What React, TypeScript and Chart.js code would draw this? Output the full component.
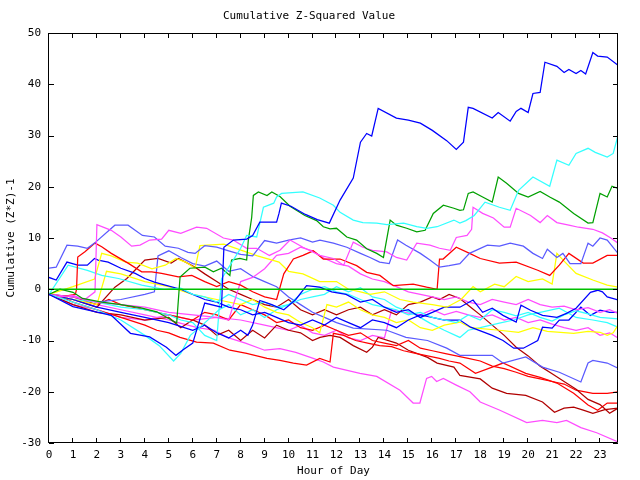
import { useEffect, useRef } from 'react';
import { Chart, registerables } from 'chart.js';

Chart.register(...registerables);

const TITLE = 'Cumulative Z-Squared Value';
const X_TITLE = 'Hour of Day';
const Y_TITLE = 'Cumulative (Z*Z)-1';
const X_TICKS = [0, 1, 2, 3, 4, 5, 6, 7, 8, 9, 10, 11, 12, 13, 14, 15, 16, 17, 18, 19, 20, 21, 22, 23];
const Y_TICKS = [-30, -20, -10, 0, 10, 20, 30, 40, 50];
const X_MIN = 0;
const X_MAX = 23.75;
const Y_MIN = -30;
const Y_MAX = 50;

// [hour, cumulative value]
const blueBig = [[0,-1],[1,-3.4],[2.6,-5.1],[3.4,-8.6],[4.2,-9.3],[4.9,-11.3],[5.3,-12.9],[5.6,-11.8],[6,-10.5],[6.5,-2.7],[7.2,-3.5],[7.3,8.2],[7.7,9.6],[8.25,9.8],[8.5,10.5],[8.8,13.1],[9.5,13.1],[9.6,14.8],[9.7,16.8],[10.1,16.2],[10.7,14.6],[11.2,13.6],[11.7,12.9],[12.15,17.4],[12.7,21.7],[13.0,28.7],[13.26,30.4],[13.47,29.9],[13.74,35.3],[14.5,33.4],[15.0,33],[15.5,32.4],[16.0,31],[16.6,29],[17.0,27.3],[17.3,28.7],[17.5,35.5],[17.7,35.3],[18.5,33.4],[18.75,34.5],[19.25,32.8],[19.5,34.7],[19.7,35.3],[20.0,34.5],[20.2,38.2],[20.5,38.4],[20.7,44.3],[21.2,43.5],[21.5,42.3],[21.7,42.9],[22.0,42.1],[22.2,42.7],[22.4,42],[22.7,46.2],[22.9,45.5],[23.3,45.3],[23.75,43.7]];
const cyanBig = [[0,-1],[1,-2.5],[2,-4],[3,-6],[4,-9],[4.6,-11],[5.2,-14],[5.5,-12.5],[5.9,-9],[6.4,-7],[7.1,-4],[7.2,2],[7.6,5],[8.0,8],[8.25,10.5],[8.67,10.2],[8.95,16],[9.38,16.8],[9.5,18],[9.71,18.7],[10.6,19],[11.3,17.8],[11.87,16.4],[12.15,15],[12.7,13.5],[13.1,13],[13.68,12.9],[14.1,12.6],[14.8,12.9],[15.35,12.2],[15.77,11.9],[16.2,12.2],[16.9,13.5],[17.15,12.9],[17.4,13.4],[17.75,14.4],[18.2,17],[18.8,16],[19.25,15.4],[19.6,19.3],[20.2,21.9],[20.9,20.1],[21.2,25.2],[21.7,24.2],[22.0,26.5],[22.5,27.5],[22.8,26.7],[23.3,25.8],[23.55,26.5],[23.75,30]];
const greenBig = [[0,-1],[0.46,0],[1.0,-0.6],[1.4,-1.8],[2.2,-2.5],[3,-3],[3.8,-3.6],[4.5,-4.4],[5.33,-6.6],[5.47,2.4],[5.88,4.1],[6.51,4.3],[6.86,3.4],[7.2,4.1],[7.55,2.7],[7.62,5.7],[7.97,6],[8.25,5.7],[8.32,9.6],[8.46,14],[8.53,18.3],[8.74,19],[9.1,18.3],[9.3,19],[9.64,18.1],[10.06,16.2],[10.68,14.4],[11.17,13.4],[11.45,12.2],[11.73,11.8],[12.0,11.9],[12.43,10.2],[12.84,9.6],[13.26,7.9],[13.68,7],[13.96,6.2],[14.24,13.5],[14.5,12.5],[14.93,11.9],[15.35,11.2],[15.7,11.5],[16.04,14.8],[16.46,16.4],[16.9,15.8],[17.15,15.4],[17.3,15.5],[17.5,18.7],[17.7,19],[18.1,18],[18.5,17],[18.75,21.9],[19.1,20.7],[19.6,18.7],[20.0,18],[20.5,19.1],[20.9,18],[21.3,17],[21.9,14.8],[22.5,12.9],[22.7,13],[23.0,18.7],[23.3,18],[23.5,20.1],[23.75,19.7]];
const magentaTop = [[0,-1],[0.5,-1.5],[1,-1.2],[1.5,-2],[1.92,-0.5],[2.0,12.6],[2.6,11.5],[3.0,10.2],[3.45,8.4],[3.8,8.6],[4.2,9.6],[4.7,9.8],[5.0,11.5],[5.5,10.9],[6.16,12.1],[6.58,11.9],[7.28,10],[7.69,9.6],[8.25,8],[8.67,8],[9.2,6.6],[9.64,7.6],[10.06,9.6],[10.6,8.2],[11.3,6.6],[11.87,6],[12.3,4.7],[12.7,9.2],[13.1,8.2],[13.5,7.6],[14.1,7.3],[14.5,6.2],[14.93,5.7],[15.35,9],[15.9,8.6],[16.3,8],[16.75,7.6],[17.0,10.1],[17.45,10.5],[17.64,11.7],[17.7,16],[18.1,14.8],[18.55,13.9],[19.0,12.1],[19.25,12.1],[19.5,15.8],[20.1,14.4],[20.5,13],[20.8,14.4],[21.2,13],[21.7,12.5],[22.1,12.1],[22.7,11.7],[23.1,11],[23.45,10],[23.75,9]];
const slateA = [[0,4.1],[0.3,4.3],[0.75,8.6],[1.2,8.4],[1.6,8],[1.9,9],[2.75,12.5],[3.3,12.5],[3.9,10.5],[4.4,10.2],[4.85,8.4],[5.4,8],[5.8,7.2],[6.1,7],[6.5,8.5],[7,8.2],[7.5,7.5],[8,6.8],[8.5,6.5],[9,9.5],[9.5,9],[10,9.6],[10.5,10],[11,9.2],[11.31,9.6],[11.87,9],[12.43,8.2],[13.0,7],[13.4,6.2],[13.8,5.3],[14.2,5],[14.55,9.6],[14.9,8.6],[15.5,7],[15.9,5.7],[16.3,4.3],[16.7,4.6],[17.15,5],[17.55,7],[18.3,8.6],[18.8,8.4],[19.25,9],[19.8,8.4],[20.2,7],[20.6,6],[20.8,7.8],[21.2,6.2],[21.45,7],[21.75,5],[22.2,5],[22.5,9],[22.7,8.4],[23.0,10],[23.3,9.6],[23.75,7]];
const slateB = [[0,-1],[1,-1.5],[2,-2.5],[3,-2],[4,-1],[4.4,-0.5],[4.55,6.5],[5,7.5],[5.5,6.2],[6,5],[6.5,4.5],[7,5.5],[7.5,3.5],[8,4],[8.5,2.5],[9,1.5],[9.5,0.5],[10,-1.5],[10.5,-3],[11,-4.5],[11.5,-5.5],[12,-6.5],[12.7,-7.6],[14.1,-8],[14.9,-9.4],[15.8,-10],[16.6,-11.5],[17.15,-12.9],[18.5,-12.9],[18.95,-14.4],[19.9,-13.2],[20.6,-15.2],[21.3,-16.2],[22.2,-18.1],[22.5,-14.4],[22.7,-13.9],[23.3,-14.4],[23.75,-15.4]];
const redUpper = [[0,-1],[0.5,-1.5],[1.1,-1],[1.15,0],[1.2,6.3],[1.5,7.3],[1.92,9],[2.2,8.3],[2.6,7],[3.3,5.1],[3.87,3.4],[4.29,3.4],[4.7,3.1],[5.4,2.4],[5.96,2.7],[6.5,1.5],[7,0.5],[7.5,1.5],[8,0.8],[8.5,-0.5],[9,-1.5],[9.5,-2],[9.8,3],[10.2,5.9],[10.6,6.6],[11.03,7.5],[11.45,5.9],[12.15,5.9],[12.84,4.6],[13.26,3.3],[13.81,2.7],[14.37,0.7],[15.2,1],[15.76,0.4],[16.2,0],[16.3,5.9],[16.45,5.9],[17.0,8.2],[17.6,6.9],[18.0,6],[18.8,5.1],[19.5,5.3],[20.4,3.7],[20.9,2.7],[21.3,4.7],[21.7,7],[22.3,5.1],[22.7,5.1],[23.3,6.6],[23.75,6.6]];
const yellowUpper = [[0,-1],[1,0.5],[1.9,2],[2.2,7],[2.6,6.5],[3.2,5.3],[3.7,5.1],[4.3,4],[4.85,4.7],[5.3,6],[5.7,5.3],[6.1,4.1],[6.3,8.5],[7.3,8.8],[8.1,7.5],[8.7,6.5],[9.6,5.3],[10,3.5],[10.6,3],[11.3,1.5],[12,1.5],[12.5,0],[13,-0.5],[13.4,-1],[14,-0.5],[14.65,-2],[15.2,-2.5],[16,-3],[16.6,-3.5],[17.2,-2],[17.7,0.5],[18,-0.5],[18.6,1],[19,0.5],[19.5,2.5],[20,1.5],[20.6,2],[21.0,1],[21.2,7],[21.5,5.5],[22,3.1],[22.7,1.8],[23.3,0.8],[23.75,0.4]];
const yellowLower = [[0,-1],[1,-2],[2,-3],[2.4,3.5],[3,3],[4,1.5],[5,0.5],[6,-1],[7,-2],[8,-3],[8.5,-2],[9,-3.5],[9.5,-4.5],[10,-5],[10.5,-6.5],[11,-7.5],[11.3,-8.5],[11.6,-3],[12,-3.5],[12.5,-2.5],[13,-4],[13.5,-5],[14,-5.5],[14.5,-6.5],[15,-6],[15.5,-7.5],[16,-8],[16.5,-7],[17.15,-6.4],[17.6,-7.5],[18.8,-8],[19.6,-8.4],[20.2,-7.5],[20.8,-8.2],[21.9,-8.6],[22.5,-8.2],[23,-8.4],[23.3,-9],[23.55,-8.5],[23.75,-7]];
const blueMid = [[0,-1],[1,-2],[2,-3.5],[3,-4.5],[4,-5.5],[5,-6.5],[6,-8],[6.5,-7],[7,-8.5],[7.5,-9.5],[8,-8],[8.3,-9],[8.5,-7],[8.8,-2.2],[9.3,-3],[9.8,-4],[10.3,-2],[10.75,0.7],[11.3,0.4],[11.8,-0.5],[12.4,-1],[13,-2.5],[13.5,-2],[14,-3.5],[14.5,-4.5],[15,-4],[15.5,-5.5],[16,-4.5],[16.5,-3.5],[17.15,-3.5],[17.7,-2.1],[18.1,-4.5],[18.5,-3.7],[18.95,-5.1],[19.5,-6.4],[19.7,-3.1],[20.1,-4.1],[20.6,-5.1],[21.2,-5.5],[21.6,-4.7],[22,-3.7],[22.6,-0.6],[22.9,-0.2],[23.1,-0.5],[23.3,-1.5],[23.75,-2.1]];
const blueLow = [[0,2.3],[0.3,1.8],[0.75,5.3],[1.2,4.7],[1.6,4.7],[1.9,6],[2.05,5.7],[2.47,5.3],[3.0,4.1],[3.6,3.1],[4.0,2.1],[4.4,1.4],[4.85,0.8],[5.5,0],[6,-1],[6.5,-2],[7,-2.5],[7.5,-3.5],[8,-4],[8.5,-5],[9,-4.5],[9.5,-5.5],[10,-6.5],[10.5,-7],[11,-6],[11.5,-7],[12,-5.5],[12.5,-6.5],[13,-7.5],[13.5,-6],[14,-6.5],[14.5,-7.5],[15,-6],[15.5,-5],[16,-5.5],[16.5,-6],[17.15,-6],[17.6,-7.4],[18.5,-9],[18.95,-10],[19.4,-11.5],[19.8,-11.5],[20.4,-10],[20.6,-7.4],[21,-7.6],[21.3,-6],[21.7,-6],[22.2,-3.5],[22.6,-5.1],[23,-4.1],[23.4,-4.5],[23.75,-4.5]];
const magentaMid = [[0,-1],[1,-1.5],[2,-2.5],[3,-3],[4,-3.5],[5,-4.5],[6,-5],[7,-5.5],[7.5,-6],[8,1.5],[8.5,2.3],[9,4],[9.5,6.6],[10,7],[10.5,8.2],[11,7.5],[11.5,6],[12,5],[12.5,4.5],[13,3],[13.5,2],[14,1.5],[14.5,0.5],[15,-0.5],[15.5,-1],[16,-1.5],[16.5,-2],[17,-1.5],[17.5,-2.5],[18,-3],[18.5,-2],[19,-2.5],[19.5,-3],[20,-2],[20.5,-3],[21,-3.5],[21.5,-3.3],[22,-4],[22.5,-3.6],[23,-4.5],[23.4,-4],[23.75,-4.7]];
const cyanMid = [[0,-1],[0.8,4.7],[1.6,3.7],[2.2,2.7],[2.9,2.1],[3.87,0.8],[4.8,0],[5.5,0.2],[6,-1],[6.5,-1.5],[7,-2.5],[7.5,-1],[8,-2],[8.5,-3],[9,-2.5],[9.5,-3.5],[10,-3],[10.5,-1],[11,0],[11.5,0.5],[12,-0.5],[12.5,-1],[13,-2],[13.5,-3],[14,-3.5],[14.5,-4],[15,-5],[15.5,-4.5],[16,-5.5],[16.5,-6],[17,-6.5],[17.5,-5],[18,-6],[18.5,-4],[19,-4.5],[19.5,-5.2],[20,-4.5],[20.5,-5.5],[21,-6.2],[21.5,-5],[22,-4.2],[22.5,-4.8],[23,-5.5],[23.75,-5.8]];
const cyanLow = [[0,-1],[1,-2],[2,-2.5],[3,-3.5],[4,-4],[5,-5],[5.5,-6],[6,-6.5],[6.5,-9],[7,-10],[7.1,-4],[7.5,-3],[8,-5],[8.5,-4],[9,-5.5],[9.5,-4],[10,-3],[10.5,-2],[11,-1.5],[11.5,-1],[12,0.5],[12.5,-0.5],[13,0.3],[13.5,-1.5],[14,-2],[14.5,-3.5],[15.2,-4.7],[15.9,-6.6],[16.5,-8],[17.15,-9.4],[17.5,-8],[18,-7.5],[18.8,-6.6],[19.4,-6],[20,-5],[20.5,-4.5],[21.3,-3.7],[22,-5.5],[22.7,-6],[23.3,-6.5],[23.75,-7.4]];
const darkRedDiag = [[0,-1],[1,-2],[2,-3.5],[2.75,0.4],[3.25,2.1],[4,5.7],[4.55,6],[5.1,5.1],[5.4,6],[5.7,5.3],[6.1,4.3],[6.5,3],[7,1.5],[7.5,0],[8,-1],[8.5,-2],[9,-3],[9.5,-3.5],[10,-2],[10.5,-4],[11,-5],[11.5,-4],[12,-5],[12.5,-4],[13,-3.5],[13.5,-5],[14,-4],[14.5,-5],[15,-3],[15.5,-2.5],[16,-1.5],[16.3,-2],[16.7,-1],[17.15,-1.8],[17.6,-3.5],[18,-5],[18.5,-7],[19,-9],[19.5,-11.3],[20,-13],[20.5,-15],[21,-16.5],[21.5,-18],[22,-19.5],[22.5,-21.5],[23,-22.5],[23.4,-24.2],[23.75,-23.2]];
const darkRedLow = [[0,-1],[1,-3],[2,-4.5],[3,-5],[4,-6],[5,-5.5],[5.5,-7.5],[6,-6],[6.5,-7],[7,-9],[7.5,-8],[8,-10],[8.5,-8],[9,-9.5],[9.5,-7],[10,-8],[10.5,-8.5],[11,-10],[11.31,-9.4],[11.73,-9],[12.15,-9.4],[12.7,-11],[13.26,-12.3],[13.5,-11.3],[13.74,-9.4],[14.5,-10.5],[15,-11.9],[15.8,-13.3],[16.2,-14.4],[16.9,-15.2],[17.15,-16.8],[18,-17.5],[18.5,-19.3],[19.1,-20.3],[19.9,-20.7],[20.6,-22],[21.1,-24],[21.5,-23.2],[21.9,-23],[22.3,-23.6],[22.7,-24.2],[23.2,-23.5],[23.75,-23.2]];
const redLow = [[0,-1],[0.5,-1.5],[1,-2.5],[2,-4],[3,-5.5],[4,-7],[4.5,-8],[5,-8.5],[5.47,-9.4],[6.16,-10.3],[6.86,-10.5],[7.55,-11.9],[8.25,-12.5],[9.1,-13.5],[9.64,-13.9],[10.2,-14.4],[10.75,-14.8],[11.3,-13.5],[11.73,-14.2],[11.87,-8.6],[12.3,-9],[12.8,-10],[13.3,-10.5],[13.8,-11],[14.3,-11.2],[14.8,-12],[15.3,-12.5],[15.8,-13],[16.3,-13.5],[16.7,-14],[17.15,-14.4],[17.8,-16.4],[18.5,-15.2],[18.95,-14.4],[19.9,-16.4],[20.5,-17.2],[21.2,-18.3],[21.9,-20.3],[22.5,-22.6],[22.9,-23.6],[23.3,-22.2],[23.75,-22.2]];
const redMid = [[0,-1],[1,-1.5],[2,-3],[2.5,-2],[3,-3],[4,-4],[5,-5],[6,-6],[6.5,-4.5],[7,-5],[7.5,-6],[8,-3],[8.5,-4],[9,-5],[9.5,-6.5],[10,-6],[10.5,-7.5],[11,-8],[11.5,-7],[12,-8],[12.5,-9],[13,-8.5],[13.5,-10],[14,-10.5],[14.5,-11],[15,-10],[15.5,-11.5],[16,-12],[16.5,-12.5],[17,-13],[17.5,-13.5],[18,-14],[18.5,-15],[19,-15.5],[19.5,-16.2],[20,-17],[20.5,-17.5],[21,-18],[21.5,-18.5],[22,-19.7],[22.7,-20.3],[23.3,-20.3],[23.75,-20]];
const magentaLow = [[0,-1],[1,-2],[2,-3],[3,-4],[4,-5],[5,-6],[5.47,-6.6],[6.2,-7.5],[6.9,-8],[7.5,-9.5],[8.2,-10.5],[9.0,-11.9],[9.64,-11.6],[10.3,-12.3],[11.03,-13.5],[11.45,-14.2],[11.87,-15.2],[12.98,-16.4],[13.68,-17],[14.65,-19.7],[15.2,-22.2],[15.48,-22.2],[15.76,-17.4],[15.97,-17],[16.18,-18],[16.46,-17.4],[17.0,-18.7],[17.57,-20],[18.0,-22],[18.82,-23.6],[19.94,-26],[20.6,-25.6],[21.2,-26],[21.6,-25.6],[22.2,-27],[22.86,-28],[23.75,-29.8]];
const magentaLow2 = [[0,-1],[1,-3],[2,-4],[3,-5.5],[4,-6],[5,-5],[6,-6],[7,-5.5],[8,-6],[9,-7],[10,-8],[10.5,-7],[11,-8.5],[11.5,-9],[12,-8],[12.5,-9.5],[13,-10],[13.5,-9],[14,-9.5],[14.3,-4],[14.8,-4.5],[15.5,-5],[16,-4],[16.5,-5],[17,-4.3],[17.5,-5],[18,-5.5],[18.5,-5],[19,-6],[19.5,-5.5],[20,-6.5],[20.5,-6],[21,-6.8],[21.5,-7.5],[22,-8],[22.5,-7.5],[23,-9],[23.4,-8.5],[23.75,-9.5]];
const zeroLine = [[X_MIN, 0], [X_MAX, 0]];

const BLUE = '#0000ff';
const SLATE = '#5a5aff';
const CYAN = '#33ffff';
const GREEN = '#00a000';
const MAGENTA = '#ff4cff';
const RED = '#ff0000';
const DARKRED = '#b00000';
const YELLOW = '#ffff00';
const ZERO = '#00c000';

const SERIES: { name: string; color: string; points: number[][] }[] = [
  { name: 'zero', color: ZERO, points: zeroLine },
  { name: 'blueBig', color: BLUE, points: blueBig },
  { name: 'cyanBig', color: CYAN, points: cyanBig },
  { name: 'greenBig', color: GREEN, points: greenBig },
  { name: 'magentaTop', color: MAGENTA, points: magentaTop },
  { name: 'slateA', color: SLATE, points: slateA },
  { name: 'redUpper', color: RED, points: redUpper },
  { name: 'yellowUpper', color: YELLOW, points: yellowUpper },
  { name: 'blueMid', color: BLUE, points: blueMid },
  { name: 'magentaMid', color: MAGENTA, points: magentaMid },
  { name: 'cyanMid', color: CYAN, points: cyanMid },
  { name: 'blueLow', color: BLUE, points: blueLow },
  { name: 'yellowLower', color: YELLOW, points: yellowLower },
  { name: 'cyanLow', color: CYAN, points: cyanLow },
  { name: 'slateB', color: SLATE, points: slateB },
  { name: 'darkRedDiag', color: DARKRED, points: darkRedDiag },
  { name: 'redMid', color: RED, points: redMid },
  { name: 'redLow', color: RED, points: redLow },
  { name: 'darkRedLow', color: DARKRED, points: darkRedLow },
  { name: 'magentaLow2', color: MAGENTA, points: magentaLow2 },
  { name: 'magentaLow', color: MAGENTA, points: magentaLow },
];

const FONT_FAMILY = '"DejaVu Sans Mono", "Liberation Mono", monospace';
const FONT = { family: FONT_FAMILY, size: 11, weight: 'normal' as const };

const frameTicks = {
  id: 'frameTicks',
  afterDraw(chart: any) {
    const { ctx, chartArea } = chart;
    const { left, right, top, bottom } = chartArea;
    const xs = chart.scales.x;
    const ys = chart.scales.y;
    const L = 5;
    ctx.save();
    ctx.strokeStyle = '#000';
    ctx.lineWidth = 1;
    ctx.beginPath();
    ctx.rect(Math.round(left) - 0.5, Math.round(top) + 0.5, Math.round(right - left), Math.round(bottom - top) - 1);
    for (const v of X_TICKS) {
      const px = Math.round(xs.getPixelForValue(v)) - 0.5;
      ctx.moveTo(px, bottom);
      ctx.lineTo(px, bottom - L);
      ctx.moveTo(px, top);
      ctx.lineTo(px, top + L);
    }
    for (const v of Y_TICKS) {
      const py = Math.round(ys.getPixelForValue(v)) + 0.5;
      ctx.moveTo(left, py);
      ctx.lineTo(left + L, py);
      ctx.moveTo(right, py);
      ctx.lineTo(right - L, py);
    }
    ctx.stroke();
    ctx.restore();
  },
};

export default function App() {
  const ref = useRef<HTMLCanvasElement>(null);
  useEffect(() => {
    document.body.style.margin = '0';
    const canvas = ref.current;
    if (!canvas) return;
    const datasets = SERIES.map((s) => ({
      label: s.name,
      data: s.points.map(([x, y]) => ({ x, y })),
      borderColor: s.color,
      backgroundColor: s.color,
      borderWidth: s.name === 'zero' ? 1.5 : 1.25,
      pointRadius: 0,
      fill: false,
      tension: 0,
    }));
    const chart = new Chart(canvas, {
      type: 'line',
      data: { datasets },
      options: {
        animation: false,
        responsive: false,
        devicePixelRatio: 1,
        layout: { padding: { left: 0, right: 22, top: 0, bottom: 0 } },
        plugins: {
          legend: { display: false },
          tooltip: { enabled: false },
          title: {
            display: true,
            text: TITLE,
            color: '#000',
            font: FONT,
            padding: { top: 10, bottom: 9.8 },
          },
        },
        scales: {
          x: {
            type: 'linear',
            min: X_MIN,
            max: X_MAX,
            afterBuildTicks: (s: any) => {
              s.ticks = X_TICKS.map((v) => ({ value: v }));
            },
            afterFit: (s: any) => {
              s.height = 37;
            },
            grid: { display: false, drawTicks: false },
            border: { display: false },
            ticks: {
              color: '#000',
              font: FONT,
              padding: 6,
              maxRotation: 0,
              autoSkip: false,
              callback: (v: any) => String(v),
            },
            title: {
              display: true,
              text: X_TITLE,
              color: '#000',
              font: FONT,
              padding: { top: 0, bottom: 2 },
            },
          },
          y: {
            type: 'linear',
            min: Y_MIN,
            max: Y_MAX,
            afterBuildTicks: (s: any) => {
              s.ticks = Y_TICKS.map((v) => ({ value: v }));
            },
            afterFit: (s: any) => {
              s.width = 49;
            },
            grid: { display: false, drawTicks: false },
            border: { display: false },
            ticks: {
              color: '#000',
              font: FONT,
              padding: 8,
              autoSkip: false,
              callback: (v: any) => String(v),
            },
            title: {
              display: true,
              text: Y_TITLE,
              color: '#000',
              font: FONT,
              padding: { top: 5, bottom: 0 },
            },
          },
        },
      },
      plugins: [frameTicks],
    });
    return () => chart.destroy();
  }, []);
  return (
    <div style={{ width: 640, height: 480 }}>
      <canvas ref={ref} width={640} height={480} style={{ display: 'block' }} />
    </div>
  );
}
